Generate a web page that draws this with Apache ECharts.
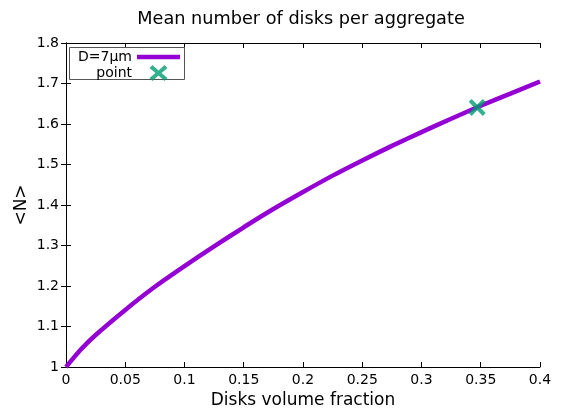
<!DOCTYPE html>
<html>
<head>
<meta charset="utf-8">
<script src="https://cdn.jsdelivr.net/npm/echarts@6/dist/echarts.min.js"></script>
<style>
  html, body { margin: 0; padding: 0; background: #fff; }
  #chart { width: 566px; height: 408px; }
</style>
</head>
<body>
<div id="chart"></div>
<script>
// Mean number of disks per aggregate versus disks volume fraction
const fractions = [0, 0.0125, 0.025, 0.05, 0.075, 0.1, 0.125, 0.15, 0.175, 0.2, 0.225, 0.25, 0.275, 0.3, 0.325, 0.35, 0.375, 0.4];
const meanN     = [1.000, 1.043, 1.079, 1.141, 1.198, 1.249, 1.298, 1.345, 1.390, 1.432, 1.4725, 1.510, 1.546, 1.580, 1.613, 1.645, 1.675, 1.705];
const pointX = [0.347];
const pointY = [1.641];

const curveName = 'D=7μm';
const pointName = 'point';
const fontFamily = 'DejaVu Sans';

const curveData = fractions.map((f, i) => [f, meanN[i]]);
const pointData = pointX.map((x, i) => [x, pointY[i]]);

// thick "x" marker
const crossPath = 'path://M0,3.5 L3.5,0 L10,6.5 L16.5,0 L20,3.5 L13.5,10 L20,16.5 L16.5,20 L10,13.5 L3.5,20 L0,16.5 L6.5,10 Z';
// same marker centred in a 43-wide legend slot (tiny anchors at both ends keep the width)
const crossLegendPath = 'path://M0,8 L0.01,8 L0.01,8.01 Z M43,8 L42.99,8 L42.99,8.01 Z ' +
  'M12.5,3 L15.5,0 L21.5,5.5 L27.5,0 L30.5,3 L24.5,8 L30.5,13 L27.5,16 L21.5,10.5 L15.5,16 L12.5,13 L18.5,8 Z';

const trimNum = v => String(parseFloat(v.toFixed(3)));

const axisLineStyle = { show: true, lineStyle: { color: '#000', width: 1 } };
const tickStyle = { show: true, inside: true, length: 5, lineStyle: { color: '#000', width: 1 } };

const chart = echarts.init(document.getElementById('chart'), null, { renderer: 'canvas' });
chart.setOption({
  animation: false,
  backgroundColor: '#fff',
  title: {
    text: 'Mean number of disks per aggregate',
    left: 296, top: 5, textAlign: 'center',
    textStyle: { fontFamily, fontSize: 17.7, fontWeight: 'normal', color: '#000' }
  },
  grid: { left: 66, right: 26, top: 43, bottom: 41, containLabel: false, outerBoundsMode: 'none' },
  xAxis: [{
    type: 'value', min: 0, max: 0.4, interval: 0.05,
    name: 'Disks volume fraction', nameLocation: 'middle', nameGap: 23,
    nameTextStyle: { fontFamily, fontSize: 17, color: '#000' },
    axisLine: axisLineStyle, axisTick: tickStyle, splitLine: { show: false },
    axisLabel: { fontFamily, fontSize: 14, color: '#000', margin: 6, formatter: trimNum }
  }, {
    type: 'value', position: 'top', min: 0, max: 0.4, interval: 0.05,
    axisLine: axisLineStyle, axisTick: tickStyle, splitLine: { show: false },
    axisLabel: { show: false }
  }],
  yAxis: [{
    type: 'value', min: 1, max: 1.8, interval: 0.1,
    name: '<N>', nameLocation: 'middle', nameGap: 36, nameRotate: 90, nameMoveOverlap: false,
    nameTextStyle: { fontFamily, fontSize: 17, color: '#000' },
    axisLine: axisLineStyle, axisTick: tickStyle, splitLine: { show: false },
    axisLabel: { fontFamily, fontSize: 14, color: '#000', margin: 7, formatter: trimNum }
  }, {
    type: 'value', position: 'right', min: 1, max: 1.8, interval: 0.1,
    axisLine: axisLineStyle, axisTick: tickStyle, splitLine: { show: false },
    axisLabel: { show: false }
  }],
  legend: [{
    data: [{ name: curveName, icon: 'rect' }], orient: 'vertical', align: 'right',
    right: 386, top: 50, padding: 0, itemWidth: 43, itemHeight: 4.5,
    textStyle: { fontFamily, fontSize: 14, color: '#000' }
  }, {
    data: [{ name: pointName, icon: crossLegendPath }], orient: 'vertical', align: 'right',
    right: 386, top: 65, padding: 0, itemWidth: 43, itemHeight: 16,
    textStyle: { fontFamily, fontSize: 14, color: '#000' }
  }],
  graphic: [{
    type: 'rect', z: 1, silent: true,
    shape: { x: 69.5, y: 47.5, width: 115, height: 32 },
    style: { fill: '#fff', stroke: '#555', lineWidth: 1 }
  }],
  series: [{
    name: curveName, type: 'line', data: curveData, smooth: 0.2,
    showSymbol: false, symbol: 'none', z: 3,
    lineStyle: { color: '#9400D3', width: 4.5 },
    itemStyle: { color: '#9400D3' }
  }, {
    name: pointName, type: 'scatter', data: pointData, z: 4,
    symbol: crossPath, symbolSize: 17,
    itemStyle: { color: '#009E73' }
  }]
});
</script>
</body>
</html>
